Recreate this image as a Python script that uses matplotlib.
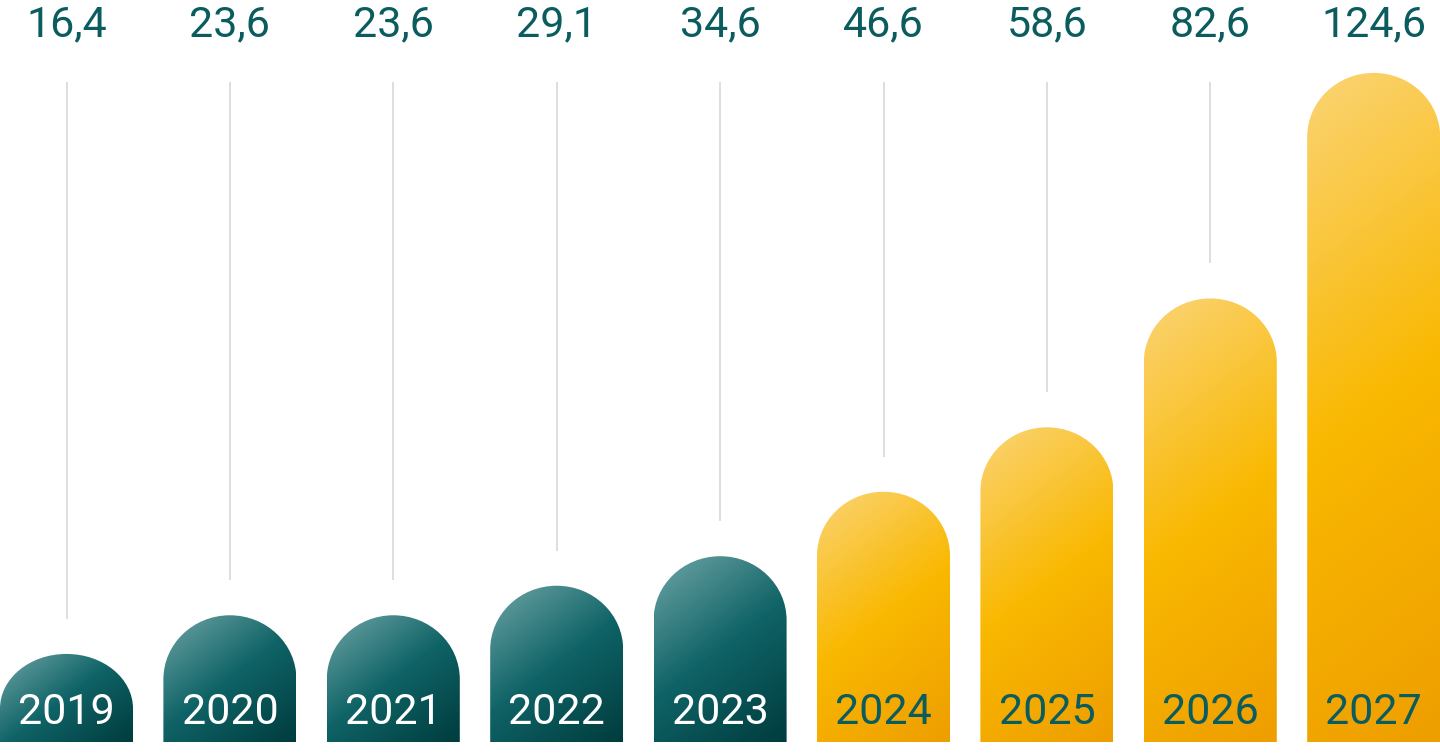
import numpy as np
import matplotlib
matplotlib.use('Agg')
import matplotlib.pyplot as plt
from matplotlib.path import Path
from matplotlib.patches import PathPatch
from matplotlib.colors import LinearSegmentedColormap

# ---- data ----
years = ['2019', '2020', '2021', '2022', '2023', '2024', '2025', '2026', '2027']
values = [16.4, 23.6, 23.6, 29.1, 34.6, 46.6, 58.6, 82.6, 124.6]
value_labels = ['16,4', '23,6', '23,6', '29,1', '34,6', '46,6', '58,6', '82,6', '124,6']
is_forecast = [False, False, False, False, False, True, True, True, True]

# ---- styling ----
W, H, DPI = 1440, 756, 100
TEXT_TEAL = '#0b5c5f'
GRID = '#d4d4d4'
teal_cmap = LinearSegmentedColormap.from_list('teal', ['#6fa5a7', '#0f6366', '#003c3e'])
gold_cmap = LinearSegmentedColormap.from_list('gold', ['#fbd475', '#f9b800', '#ee9e00'])

plt.rcParams['font.family'] = ['Roboto', 'DejaVu Sans']

fig = plt.figure(figsize=(W / DPI, H / DPI), dpi=DPI)
ax = fig.add_axes([0, 0, 1, 1])
ax.axis('off')

# layout in pixels
step_px = 163.4
first_center_px = 66.5
bar_w_px = 133
base_px = 14            # baseline above bottom edge
scale_px = 5.37         # px per unit value

x_lo = -first_center_px / step_px
x_hi = (W - first_center_px) / step_px
y_lo = -base_px / scale_px
y_hi = (H - base_px) / scale_px
ax.set_xlim(x_lo, x_hi)
ax.set_ylim(y_lo, y_hi)

px_x = W / (x_hi - x_lo)
px_y = H / (y_hi - y_lo)
bw = bar_w_px / px_x
K = 0.5523

def rounded_top_path(xc, h, rx, ry):
    x0, x1 = xc - rx, xc + rx
    ys = h - ry
    verts = [(x0, 0), (x0, ys),
             (x0, ys + K * ry), (xc - K * rx, h), (xc, h),
             (xc + K * rx, h), (x1, ys + K * ry), (x1, ys),
             (x1, 0), (x0, 0)]
    codes = [Path.MOVETO, Path.LINETO,
             Path.CURVE4, Path.CURVE4, Path.CURVE4,
             Path.CURVE4, Path.CURVE4, Path.CURVE4,
             Path.LINETO, Path.CLOSEPOLY]
    return Path(verts, codes)

GDX, GDY = 0.6, 0.8   # gradient direction in pixel space (down-right)

for i, (yr, v, lab, fc) in enumerate(zip(years, values, value_labels, is_forecast)):
    rx = bw / 2
    h_px = v * scale_px
    ry_px = min(64, 0.62 * h_px)
    ry = ry_px / px_y
    path = rounded_top_path(i, v, rx, ry)
    patch = PathPatch(path, facecolor='none', edgecolor='none')
    ax.add_patch(patch)

    ny = max(int(h_px), 2)
    gy, gx = np.mgrid[0:h_px:complex(0, ny), 0:bar_w_px:100j]  # gy from top
    grad = (GDX * gx + GDY * gy) / (GDX * bar_w_px + GDY * h_px)

    cmap = gold_cmap if fc else teal_cmap
    im = ax.imshow(grad, cmap=cmap, vmin=0, vmax=1, aspect='auto',
                   extent=[i - rx, i + rx, 0, v], origin='upper',
                   interpolation='bilinear', zorder=2)
    im.set_clip_path(patch)

    # thin guide line from label down to just above bar
    line_top = y_hi - 82 / px_y
    line_bot = v + 35 / px_y
    if line_bot < line_top:
        ax.plot([i, i], [line_bot, line_top], color=GRID, lw=1.1, zorder=1,
                solid_capstyle='butt')

    # value label on top
    ax.text(i, y_hi - 25 / px_y, lab, ha='center', va='center',
            fontsize=31, color=TEXT_TEAL, zorder=3)
    # year label inside bar
    ax.text(i, 30 / px_y, yr, ha='center', va='center', fontsize=31,
            color=TEXT_TEAL if fc else 'white', zorder=3)

fig.savefig('out.png', dpi=DPI, facecolor='white')
